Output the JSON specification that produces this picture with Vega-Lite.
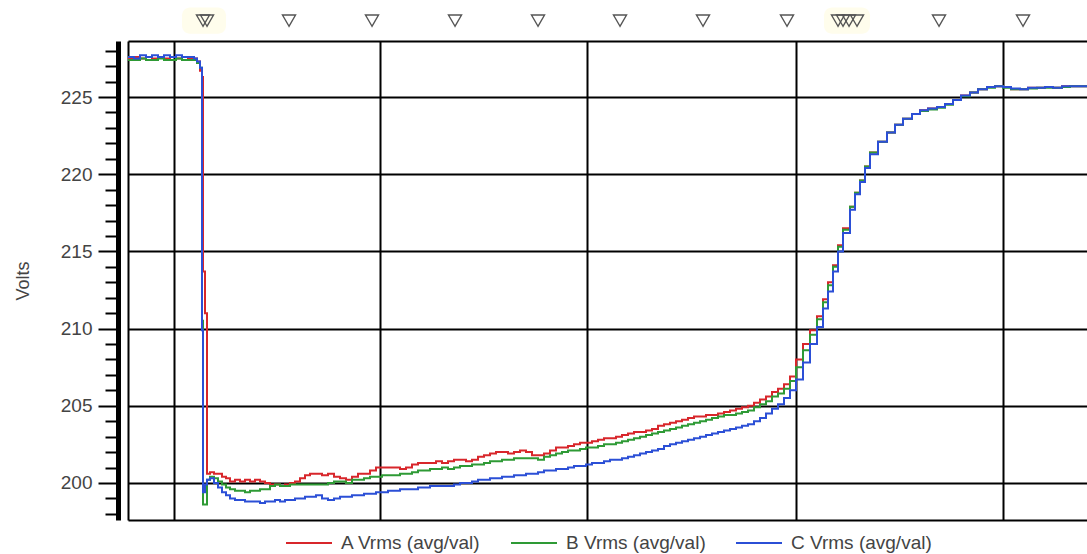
{
  "$schema": "https://vega.github.io/schema/vega-lite/v6.json",
  "autosize": {"type": "none"},
  "padding": {"left": 128, "top": 41, "right": 0, "bottom": 34},
  "width": 959,
  "height": 479,
  "background": "white",
  "config": {"view": {"stroke": null}, "font": "Liberation Sans"},
  "datasets": {
    "v": [
      {"t":0,"A":227.5,"B":227.4,"C":227.6},{"t":6,"A":227.6,"B":227.4,"C":227.5},{"t":12,"A":227.5,"B":227.5,"C":227.7},
      {"t":18,"A":227.6,"B":227.4,"C":227.6},{"t":24,"A":227.5,"B":227.4,"C":227.7},{"t":30,"A":227.6,"B":227.5,"C":227.6},
      {"t":36,"A":227.5,"B":227.4,"C":227.7},{"t":42,"A":227.6,"B":227.4,"C":227.6},{"t":48,"A":227.5,"B":227.5,"C":227.7},
      {"t":54,"A":227.6,"B":227.4,"C":227.6},{"t":60,"A":227.5,"B":227.4,"C":227.6},{"t":66,"A":227.5,"B":227.4,"C":227.5},
      {"t":69,"A":227.3,"B":227.2,"C":227.3},{"t":72,"A":226.7,"B":226.9,"C":226.9},{"t":74,"A":226.3,"B":210.5,"C":209.9},
      {"t":75,"A":213.7,"B":198.6,"C":199.4},{"t":77,"A":211.0,"B":198.6,"C":199.9},{"t":79,"A":200.6,"B":200.2,"C":200.2},
      {"t":82,"A":200.7,"B":200.4,"C":200.3},{"t":86,"A":200.6,"B":200.3,"C":200.0},{"t":90,"A":200.6,"B":200.1,"C":199.7},
      {"t":94,"A":200.4,"B":199.9,"C":199.4},{"t":98,"A":200.3,"B":199.7,"C":199.2},{"t":102,"A":200.1,"B":199.6,"C":199.0},
      {"t":107,"A":200.2,"B":199.5,"C":198.9},{"t":112,"A":200.1,"B":199.5,"C":198.9},{"t":117,"A":200.2,"B":199.4,"C":198.8},
      {"t":122,"A":200.1,"B":199.5,"C":198.8},{"t":127,"A":200.2,"B":199.5,"C":198.8},{"t":132,"A":200.1,"B":199.6,"C":198.7},
      {"t":137,"A":200.0,"B":199.6,"C":198.8},{"t":142,"A":199.9,"B":199.8,"C":198.8},{"t":147,"A":199.9,"B":199.9,"C":198.9},
      {"t":152,"A":199.8,"B":199.8,"C":198.8},{"t":157,"A":199.9,"B":199.8,"C":198.9},{"t":162,"A":200.0,"B":199.9,"C":198.9},
      {"t":167,"A":200.1,"B":199.9,"C":199.0},{"t":172,"A":200.3,"B":199.9,"C":199.0},{"t":177,"A":200.5,"B":199.9,"C":199.1},
      {"t":182,"A":200.6,"B":199.9,"C":199.1},{"t":188,"A":200.6,"B":199.9,"C":199.2},{"t":194,"A":200.5,"B":199.9,"C":199.0},
      {"t":200,"A":200.6,"B":200.0,"C":198.9},{"t":206,"A":200.4,"B":200.1,"C":199.0},{"t":212,"A":200.3,"B":200.1,"C":199.1},
      {"t":218,"A":200.2,"B":200.0,"C":199.1},{"t":224,"A":200.4,"B":200.2,"C":199.2},{"t":230,"A":200.6,"B":200.2,"C":199.2},
      {"t":236,"A":200.6,"B":200.3,"C":199.3},{"t":242,"A":200.8,"B":200.4,"C":199.3},{"t":248,"A":201.0,"B":200.4,"C":199.4},
      {"t":254,"A":201.0,"B":200.5,"C":199.4},{"t":260,"A":201.0,"B":200.5,"C":199.5},{"t":266,"A":201.0,"B":200.5,"C":199.5},
      {"t":272,"A":200.9,"B":200.6,"C":199.6},{"t":278,"A":201.0,"B":200.6,"C":199.6},{"t":284,"A":201.2,"B":200.7,"C":199.6},
      {"t":290,"A":201.3,"B":200.8,"C":199.7},{"t":296,"A":201.3,"B":200.8,"C":199.7},{"t":302,"A":201.3,"B":200.9,"C":199.8},
      {"t":308,"A":201.4,"B":200.9,"C":199.8},{"t":314,"A":201.3,"B":201.0,"C":199.8},{"t":320,"A":201.4,"B":200.9,"C":199.8},
      {"t":326,"A":201.5,"B":201.0,"C":199.9},{"t":332,"A":201.5,"B":201.1,"C":200.0},{"t":338,"A":201.4,"B":201.1,"C":200.0},
      {"t":344,"A":201.5,"B":201.2,"C":200.1},{"t":350,"A":201.7,"B":201.2,"C":200.2},{"t":356,"A":201.8,"B":201.3,"C":200.2},
      {"t":362,"A":201.9,"B":201.4,"C":200.3},{"t":368,"A":202.0,"B":201.4,"C":200.3},{"t":374,"A":202.0,"B":201.5,"C":200.4},
      {"t":380,"A":201.9,"B":201.5,"C":200.4},{"t":386,"A":202.0,"B":201.6,"C":200.5},{"t":392,"A":202.1,"B":201.6,"C":200.5},
      {"t":398,"A":202.0,"B":201.6,"C":200.6},{"t":404,"A":201.8,"B":201.6,"C":200.6},{"t":410,"A":201.8,"B":201.5,"C":200.7},
      {"t":416,"A":201.9,"B":201.7,"C":200.8},{"t":422,"A":202.1,"B":201.8,"C":200.8},{"t":428,"A":202.3,"B":201.9,"C":200.9},
      {"t":434,"A":202.3,"B":202.0,"C":200.9},{"t":440,"A":202.4,"B":202.1,"C":201.0},{"t":446,"A":202.5,"B":202.1,"C":201.1},
      {"t":452,"A":202.6,"B":202.2,"C":201.1},{"t":458,"A":202.6,"B":202.3,"C":201.2},{"t":464,"A":202.7,"B":202.3,"C":201.3},
      {"t":470,"A":202.8,"B":202.4,"C":201.3},{"t":476,"A":202.9,"B":202.5,"C":201.4},{"t":482,"A":202.9,"B":202.5,"C":201.5},
      {"t":488,"A":203.0,"B":202.6,"C":201.5},{"t":494,"A":203.1,"B":202.7,"C":201.6},{"t":500,"A":203.2,"B":202.8,"C":201.7},
      {"t":506,"A":203.3,"B":202.9,"C":201.8},{"t":512,"A":203.3,"B":203.0,"C":201.9},{"t":518,"A":203.4,"B":203.1,"C":202.0},
      {"t":524,"A":203.5,"B":203.2,"C":202.1},{"t":530,"A":203.7,"B":203.3,"C":202.2},{"t":536,"A":203.8,"B":203.4,"C":202.4},
      {"t":542,"A":203.9,"B":203.5,"C":202.5},{"t":548,"A":204.0,"B":203.6,"C":202.6},{"t":554,"A":204.1,"B":203.7,"C":202.7},
      {"t":560,"A":204.2,"B":203.8,"C":202.8},{"t":566,"A":204.3,"B":203.9,"C":202.9},{"t":572,"A":204.3,"B":204.0,"C":203.0},
      {"t":578,"A":204.4,"B":204.1,"C":203.1},{"t":584,"A":204.4,"B":204.2,"C":203.2},{"t":590,"A":204.5,"B":204.3,"C":203.3},
      {"t":596,"A":204.6,"B":204.4,"C":203.4},{"t":602,"A":204.7,"B":204.4,"C":203.5},{"t":608,"A":204.8,"B":204.5,"C":203.6},
      {"t":614,"A":204.9,"B":204.6,"C":203.7},{"t":620,"A":205.0,"B":204.7,"C":203.8},{"t":626,"A":205.2,"B":204.9,"C":204.0},
      {"t":632,"A":205.4,"B":205.1,"C":204.2},{"t":638,"A":205.6,"B":205.3,"C":204.5},{"t":644,"A":205.9,"B":205.6,"C":204.8},
      {"t":650,"A":206.1,"B":205.8,"C":205.1},{"t":656,"A":206.4,"B":206.1,"C":205.5},{"t":662,"A":206.9,"B":206.6,"C":206.0},
      {"t":668,"A":208.0,"B":207.5,"C":206.7},{"t":675,"A":209.0,"B":208.6,"C":207.8},{"t":682,"A":209.9,"B":209.6,"C":209.0},
      {"t":689,"A":210.8,"B":210.6,"C":210.1},{"t":695,"A":211.9,"B":211.7,"C":211.3},{"t":700,"A":213.0,"B":212.8,"C":212.4},
      {"t":705,"A":214.1,"B":214.0,"C":213.7},{"t":710,"A":215.4,"B":215.3,"C":215.0},{"t":715,"A":216.5,"B":216.4,"C":216.2},
      {"t":722,"A":217.9,"B":217.9,"C":217.7},{"t":727,"A":218.8,"B":218.8,"C":218.7},{"t":732,"A":219.6,"B":219.6,"C":219.5},
      {"t":737,"A":220.5,"B":220.5,"C":220.4},{"t":742,"A":221.4,"B":221.4,"C":221.3},{"t":750,"A":222.1,"B":222.1,"C":222.1},
      {"t":759,"A":222.7,"B":222.7,"C":222.7},{"t":767,"A":223.2,"B":223.2,"C":223.2},{"t":775,"A":223.6,"B":223.6,"C":223.6},
      {"t":784,"A":223.9,"B":223.9,"C":223.9},{"t":792,"A":224.15,"B":224.1,"C":224.15},{"t":800,"A":224.25,"B":224.2,"C":224.25},
      {"t":809,"A":224.35,"B":224.3,"C":224.35},{"t":817,"A":224.55,"B":224.5,"C":224.55},{"t":825,"A":224.8,"B":224.8,"C":224.8},
      {"t":833,"A":225.1,"B":225.05,"C":225.1},{"t":842,"A":225.3,"B":225.3,"C":225.3},{"t":850,"A":225.5,"B":225.5,"C":225.5},
      {"t":859,"A":225.65,"B":225.6,"C":225.65},{"t":867,"A":225.7,"B":225.7,"C":225.7},{"t":875,"A":225.65,"B":225.6,"C":225.65},
      {"t":883,"A":225.5,"B":225.5,"C":225.55},{"t":892,"A":225.5,"B":225.5,"C":225.5},{"t":900,"A":225.6,"B":225.55,"C":225.6},
      {"t":909,"A":225.6,"B":225.6,"C":225.6},{"t":917,"A":225.65,"B":225.6,"C":225.65},{"t":925,"A":225.6,"B":225.6,"C":225.6},
      {"t":934,"A":225.7,"B":225.65,"C":225.7},{"t":942,"A":225.7,"B":225.7,"C":225.7},{"t":950,"A":225.7,"B":225.7,"C":225.7},
      {"t":959,"A":225.75,"B":225.7,"C":225.75}
    ],
    "marks": [
      {"t":75},{"t":79},{"t":161},{"t":244},{"t":327},{"t":410},{"t":492},{"t":575},{"t":659},
      {"t":710},{"t":715},{"t":721},{"t":729},{"t":811},{"t":895}
    ],
    "glow": [
      {"t0":54,"t1":98},{"t0":696,"t1":742}
    ]
  },
  "layer": [
    {
      "data": {"name": "glow"},
      "mark": {"type": "rect", "color": "#fffdec", "cornerRadius": 8},
      "encoding": {
        "x": {"field": "t0", "type": "quantitative", "scale": {"domain": [0, 959], "nice": false, "zero": false}, "axis": null},
        "x2": {"field": "t1"},
        "y": {"datum": 229.1, "type": "quantitative", "scale": {"domain": [197.6, 228.63], "nice": false, "zero": false}, "axis": null},
        "y2": {"datum": 230.8}
      }
    },
    {
      "data": {"name": "v"},
      "transform": [{"fold": ["A", "B", "C"], "as": ["series", "volts"]}],
      "mark": {"type": "line", "interpolate": "step-after", "strokeWidth": 2},
      "encoding": {
        "x": {
          "field": "t", "type": "quantitative",
          "scale": {"domain": [0, 959], "nice": false, "zero": false},
          "axis": {"orient": "bottom", "title": null, "labels": false, "ticks": false, "domain": true, "domainColor": "#000", "domainWidth": 2, "grid": true, "gridColor": "#000", "gridWidth": 2, "gridOpacity": 1, "values": [46, 252, 459, 668, 875]}
        },
        "y": {
          "field": "volts", "type": "quantitative",
          "scale": {"domain": [197.6, 228.63], "nice": false, "zero": false},
          "axis": {
            "orient": "left", "offset": 10, "title": "Volts", "titleFont": "Liberation Sans", "titleFontSize": 18, "titleFontWeight": "normal", "titleColor": "#444", "titlePadding": 28,
            "values": [198, 199, 200, 201, 202, 203, 204, 205, 206, 207, 208, 209, 210, 211, 212, 213, 214, 215, 216, 217, 218, 219, 220, 221, 222, 223, 224, 225, 226, 227, 228],
            "labelExpr": "datum.value % 5 === 0 ? datum.label : ''",
            "labelFontSize": 19, "labelColor": "#444", "labelPadding": 6,
            "domain": true, "domainColor": "#000", "domainWidth": 5,
            "ticks": true, "tickColor": "#000", "tickWidth": 2,
            "tickSize": {"condition": {"test": "datum.value % 5 === 0", "value": 20}, "value": 13},
            "grid": false
          }
        },
        "color": {
          "field": "series", "type": "nominal",
          "scale": {"domain": ["A", "B", "C"], "range": ["#d8262b", "#2e9a35", "#2b4fd6"]},
          "legend": {
            "orient": "none", "legendX": 157, "legendY": 478, "direction": "horizontal", "title": null,
            "symbolType": "stroke", "symbolSize": 2116, "symbolStrokeWidth": 2,
            "labelExpr": "datum.label + ' Vrms (avg/val)'",
            "labelFontSize": 19, "labelColor": "#444", "labelOffset": 8, "columnPadding": 26
          }
        }
      }
    },
    {
      "data": {"values": [{"a": 1}]},
      "mark": {"type": "rule", "opacity": 0},
      "encoding": {
        "x": {"datum": 0, "type": "quantitative", "scale": {"domain": [0, 959], "nice": false, "zero": false},
          "axis": {"orient": "top", "title": null, "labels": false, "ticks": false, "grid": false, "domain": true, "domainColor": "#000", "domainWidth": 2, "values": []}},
        "y": {"datum": 200, "type": "quantitative", "scale": {"domain": [197.6, 228.63], "nice": false, "zero": false},
          "axis": {"orient": "left", "offset": 0, "title": null, "labels": false, "ticks": false, "domain": true, "domainColor": "#000", "domainWidth": 2, "grid": true, "gridColor": "#000", "gridWidth": 2, "gridOpacity": 1, "values": [200, 205, 210, 215, 220, 225]}}
      }
    },
    {
      "data": {"name": "marks"},
      "mark": {"type": "point", "shape": "triangle-down", "size": 170, "filled": false, "stroke": "#555", "strokeWidth": 1.4, "fillOpacity": 0, "opacity": 1},
      "encoding": {
        "x": {"field": "t", "type": "quantitative", "scale": {"domain": [0, 959], "nice": false, "zero": false}, "axis": null},
        "y": {"datum": 229.95, "type": "quantitative", "scale": {"domain": [197.6, 228.63], "nice": false, "zero": false}, "axis": null}
      }
    }
  ],
  "resolve": {"axis": {"x": "independent", "y": "independent"}}
}
